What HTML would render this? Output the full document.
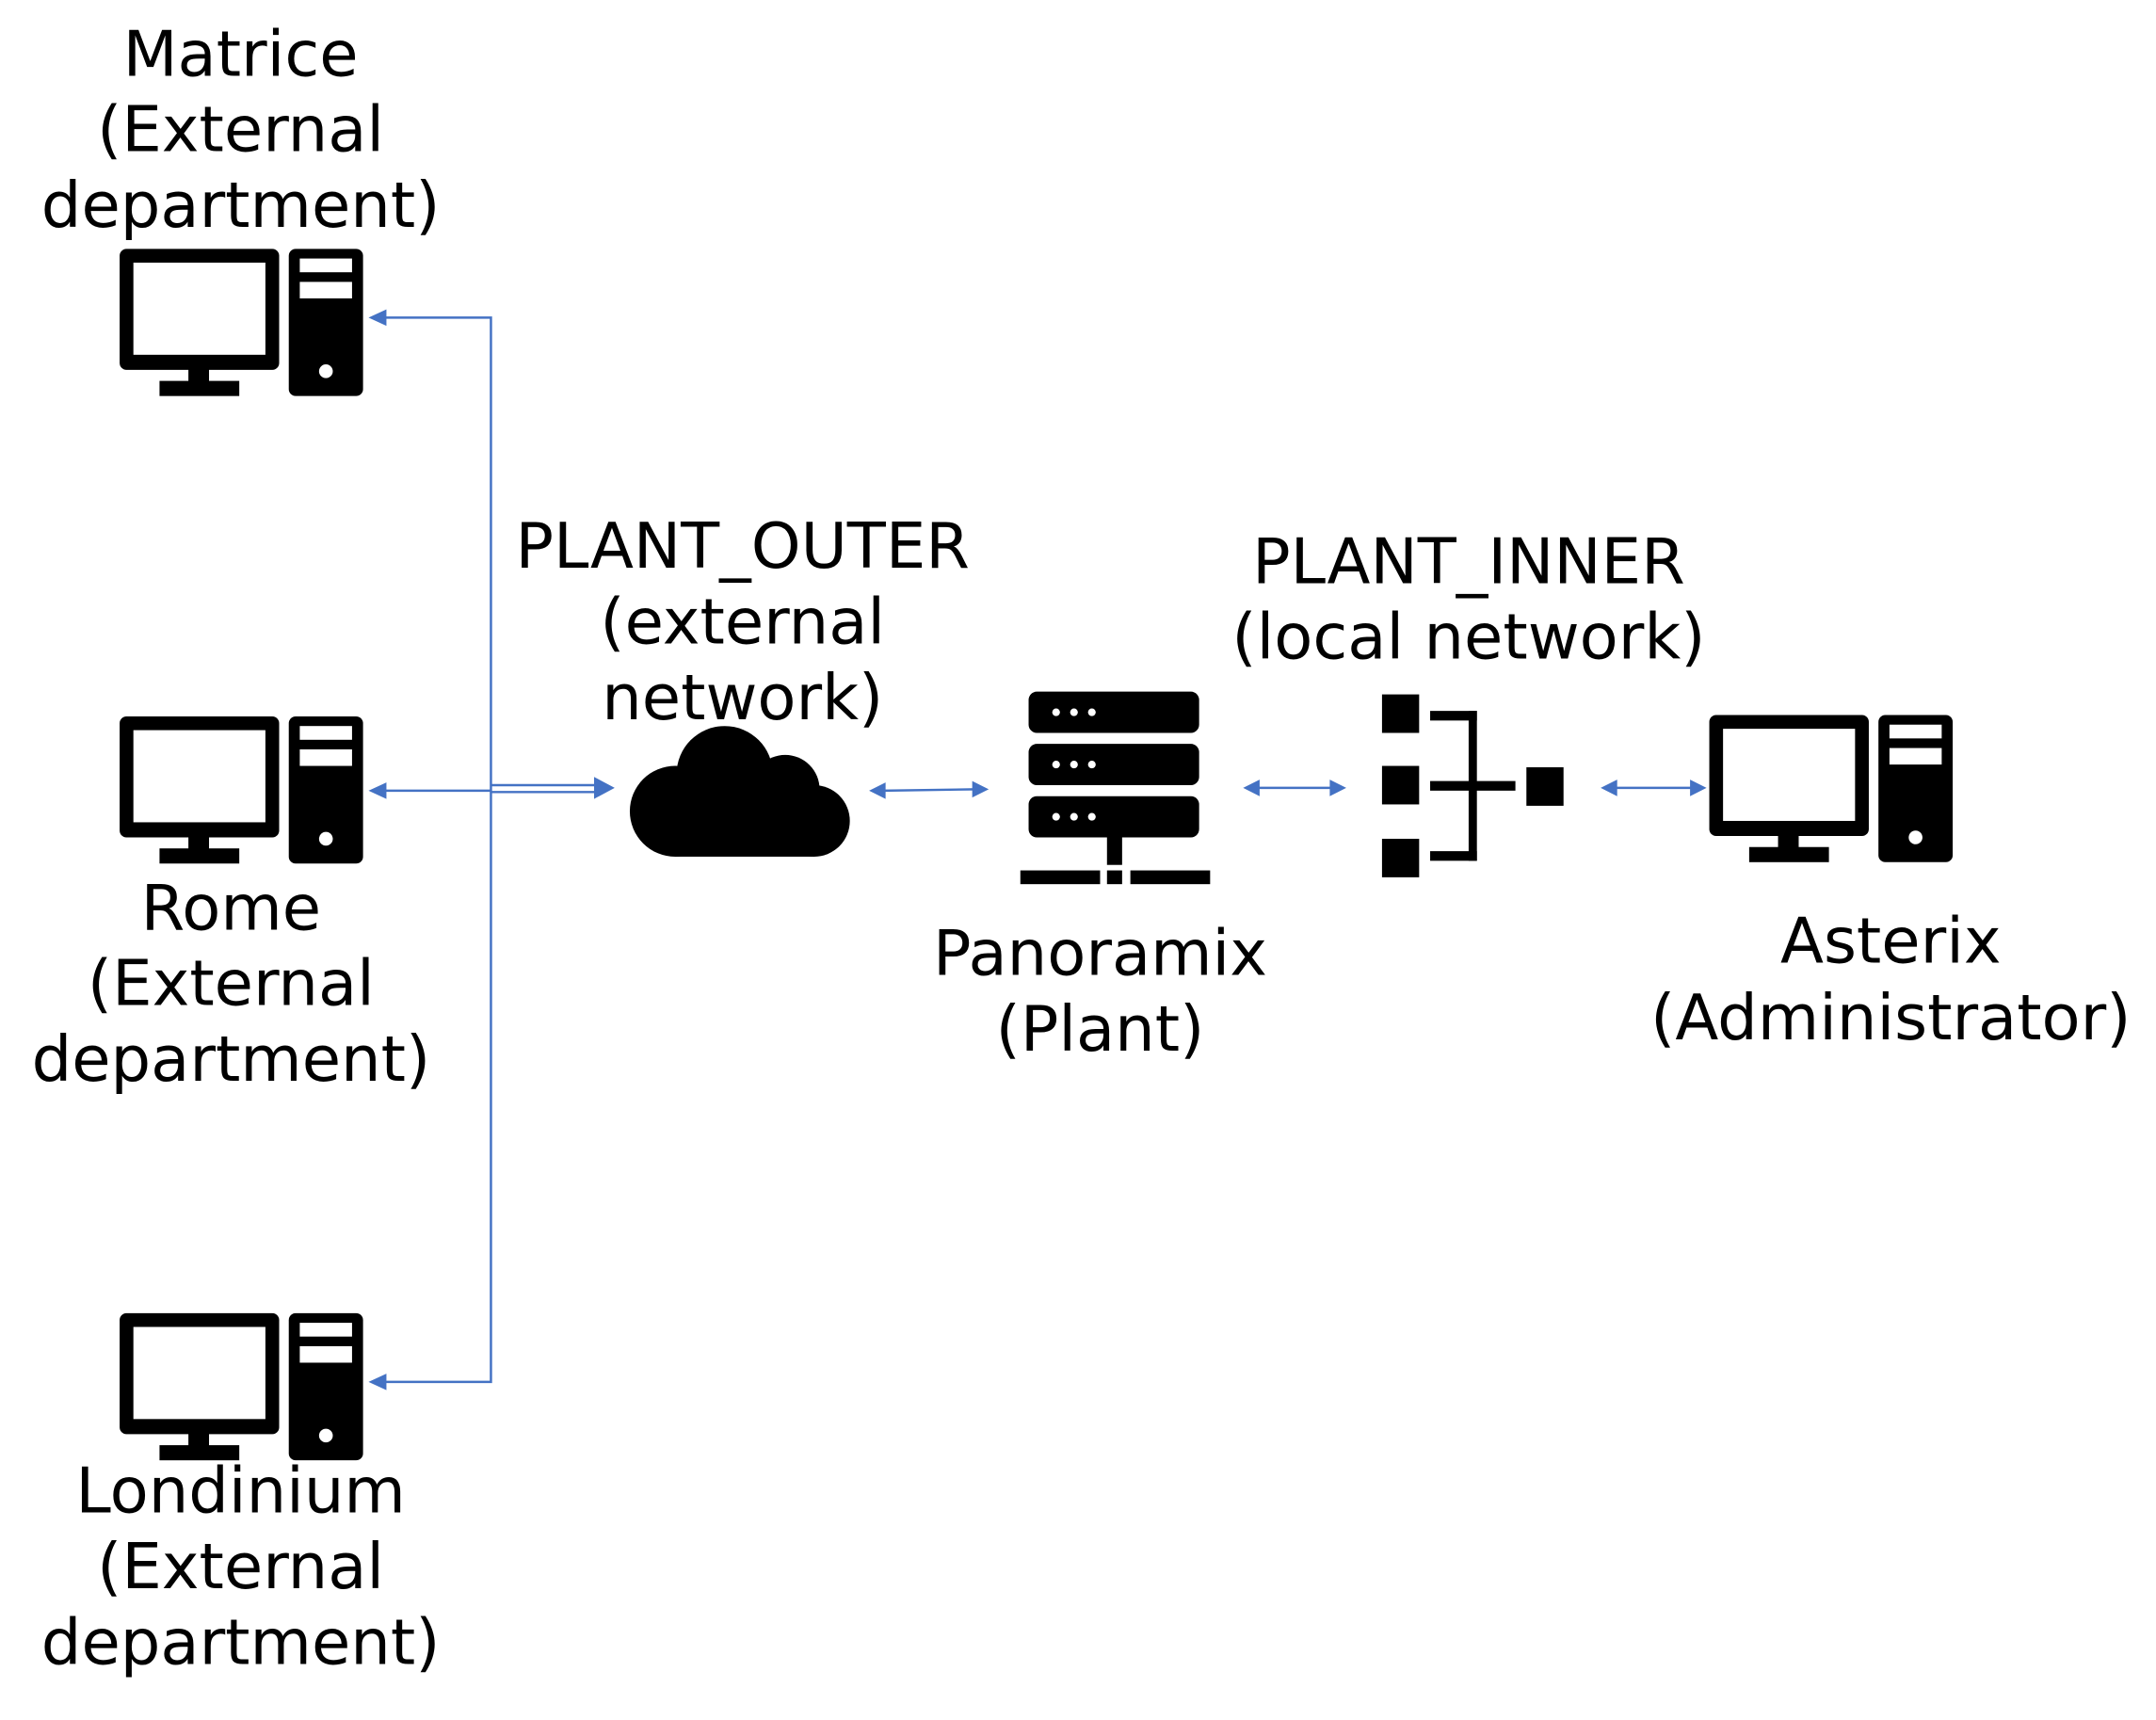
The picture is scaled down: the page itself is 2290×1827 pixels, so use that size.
<!DOCTYPE html>
<html><head><meta charset="utf-8"><style>
html,body{margin:0;padding:0;background:#fff;}
svg{display:block;}
text{font-family:"DejaVu Sans","Liberation Sans",sans-serif;font-size:46px;fill:#000;text-anchor:middle;}
</style></head><body>
<svg width="2290" height="1827" viewBox="0 0 1560 1244.6" xmlns="http://www.w3.org/2000/svg">
<defs>
<g id="pc">
  <rect x="87" y="181" width="116" height="88" rx="5" fill="#000"/>
  <rect x="97" y="191" width="96" height="67" fill="#fff"/>
  <rect x="137" y="268" width="15" height="12" fill="#000"/>
  <rect x="116" y="277" width="58" height="11" fill="#000"/>
  <rect x="210" y="181" width="54" height="107" rx="5" fill="#000"/>
  <rect x="218" y="188" width="38" height="10" fill="#fff"/>
  <rect x="218" y="205" width="38" height="12" fill="#fff"/>
  <circle cx="237" cy="270" r="5" fill="#fff"/>
</g>
</defs>
<rect width="1560" height="1244.6" fill="#fff"/>
<g transform="scale(0.995)">
<use href="#pc"/>
<use href="#pc" transform="translate(0,340)"/>
<use href="#pc" transform="translate(0,774)"/>
<use href="#pc" transform="translate(1156,339)"/>

<text x="175" y="55">Matrice</text>
<text x="175" y="110">(External</text>
<text x="175" y="165">department)</text>
<text x="168" y="676">Rome</text>
<text x="168" y="731">(External</text>
<text x="168" y="786">department)</text>
<text x="175" y="1100">Londinium</text>
<text x="175" y="1155">(External</text>
<text x="175" y="1210">department)</text>
<text x="540" y="413">PLANT_OUTER</text>
<text x="540" y="468">(external</text>
<text x="540" y="523">network)</text>
<text x="1068" y="424">PLANT_INNER</text>
<text x="1068" y="479">(local network)</text>
<text x="800" y="709">Panoramix</text>
<text x="800" y="764">(Plant)</text>
<text x="1375" y="700">Asterix</text>
<text x="1375" y="756">(Administrator)</text>

<g stroke="#4472C4" stroke-width="1.7" fill="none">
  <polyline points="278,231 357,231 357,1005 278,1005"/>
  <line x1="278" y1="575" x2="357" y2="575"/>
  <line x1="357" y1="571" x2="437" y2="571"/>
  <line x1="357" y1="576" x2="437" y2="576"/>
  <line x1="642" y1="575" x2="710" y2="574"/>
  <line x1="914" y1="573" x2="969" y2="573"/>
  <line x1="1174" y1="573" x2="1231" y2="573"/>
</g>
<g fill="#4472C4">
  <polygon points="268,231 281,225 281,237"/>
  <polygon points="268,575 281,569 281,581"/>
  <polygon points="268,1005 281,999 281,1011"/>
  <polygon points="447,573 432,565 432,581"/>
  <polygon points="632,575 644,569 644,581"/>
  <polygon points="719,574 707,568 707,580"/>
  <polygon points="904,573 916,567 916,579"/>
  <polygon points="979,573 967,567 967,579"/>
  <polygon points="1164,573 1176,567 1176,579"/>
  <polygon points="1241,573 1229,567 1229,579"/>
</g>

<g fill="#000">
  <circle cx="527" cy="563" r="35"/>
  <circle cx="571" cy="574" r="25"/>
  <circle cx="491" cy="590" r="33"/>
  <circle cx="592" cy="597" r="26"/>
  <rect x="491" y="580" width="101" height="43"/>
</g>

<g fill="#000">
  <rect x="748" y="503" width="124" height="30" rx="6"/>
  <rect x="748" y="541" width="124" height="30" rx="6"/>
  <rect x="748" y="579" width="124" height="30" rx="6"/>
  <rect x="805" y="607" width="11" height="22"/>
  <rect x="742" y="633" width="58" height="10"/>
  <rect x="805" y="633" width="11" height="10"/>
  <rect x="822" y="633" width="58" height="10"/>
</g>
<g fill="#fff">
  <circle cx="768" cy="518" r="2.8"/><circle cx="781" cy="518" r="2.8"/><circle cx="794" cy="518" r="2.8"/>
  <circle cx="768" cy="556" r="2.8"/><circle cx="781" cy="556" r="2.8"/><circle cx="794" cy="556" r="2.8"/>
  <circle cx="768" cy="594" r="2.8"/><circle cx="781" cy="594" r="2.8"/><circle cx="794" cy="594" r="2.8"/>
</g>

<g fill="#000">
  <rect x="1005" y="505" width="27" height="28"/>
  <rect x="1005" y="557" width="27" height="28"/>
  <rect x="1005" y="610" width="27" height="28"/>
  <rect x="1040" y="517" width="34" height="7"/>
  <rect x="1040" y="619" width="34" height="7"/>
  <rect x="1068" y="517" width="6" height="109"/>
  <rect x="1040" y="568" width="62" height="7"/>
  <rect x="1110" y="558" width="27" height="28"/>
</g>
</g>
</svg>
</body></html>
